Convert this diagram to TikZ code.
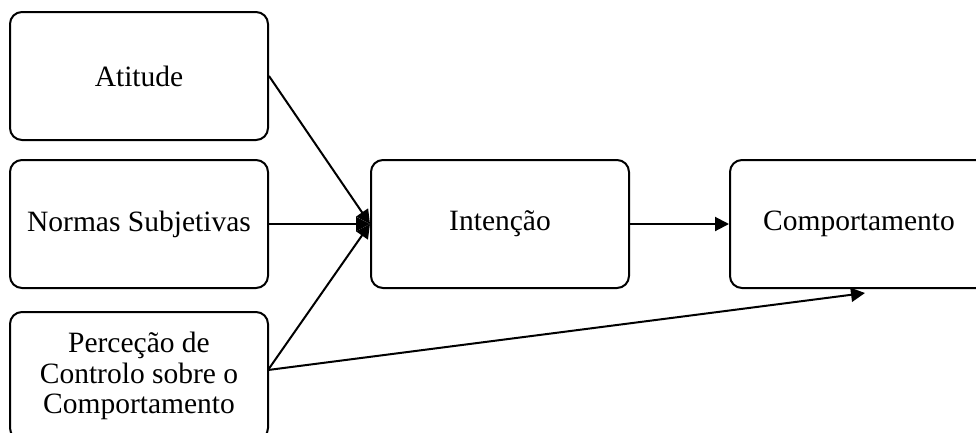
\documentclass[tikz,border=0pt]{standalone}
\usepackage{fontspec}
\setmainfont{Liberation Serif}
\usetikzlibrary{arrows.meta,calc}
\begin{document}
\begin{tikzpicture}[x=1pt,y=-1pt,
  box/.style={draw,line width=2pt,rounded corners=12pt,minimum width=258pt,minimum height=128pt,align=center,inner sep=0pt,font=\fontsize{29.5}{30.5}\selectfont},
  conn/.style={line width=2pt,-{Triangle[length=14pt,width=14pt]}}]
\useasboundingbox (0,0) rectangle (976,432);
\begin{scope}
\clip (0,0) rectangle (976,432);
\node[box] (ati) at (139,76) {Atitude};
\node[box] (nor) at (139,224) {Normas Subjetivas};
\node[box] (per) at (139,376) {Perceção de\\Controlo sobre o\\Comportamento};
\node[box] (int) at (500,224) {Intenção};
\node[box] (com) at (859,224) {Comportamento};
\coordinate (ct) at ($(com.south)+(6,4)$);
\coordinate (ps) at (268,370);
\draw[conn] (ati.east) -- (int.west);
\draw[conn] (nor.east) -- (int.west);
\draw[conn] (ps) -- (int.west);
\draw[conn] (ps) -- (ct);
\draw[conn] (int.east) -- (com.west);
\end{scope}
\end{tikzpicture}
\end{document}
